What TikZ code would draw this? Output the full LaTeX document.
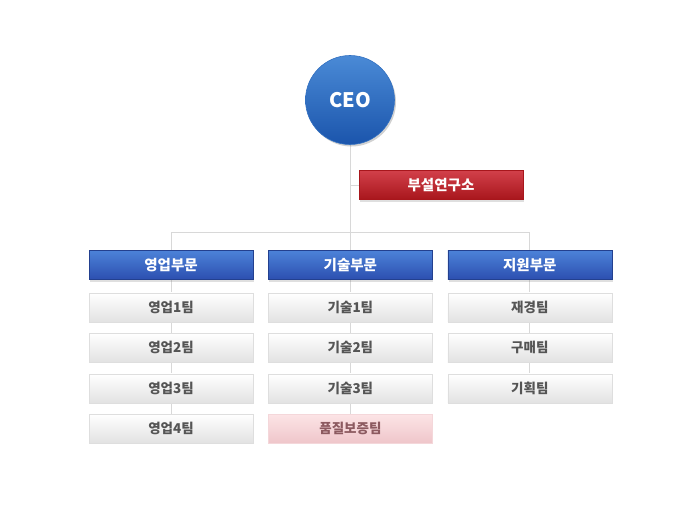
\documentclass[tikz,border=0pt]{standalone}
\usepackage{fontspec}
\setmainfont{Noto Sans CJK KR}
\usetikzlibrary{positioning,shadows,backgrounds}

\definecolor{ceotop}{HTML}{4A8AD6}
\definecolor{ceobot}{HTML}{1B55AC}
\definecolor{headtop}{HTML}{4C82D8}
\definecolor{headbot}{HTML}{2C4FB0}
\definecolor{headline}{HTML}{23408F}
\definecolor{labtop}{HTML}{D2404A}
\definecolor{labbot}{HTML}{A8161C}
\definecolor{teambot}{HTML}{E2E2E2}
\definecolor{teamline}{HTML}{DEDEDE}
\definecolor{teamtext}{HTML}{555555}
\definecolor{pinktop}{HTML}{FCE4E6}
\definecolor{pinkbot}{HTML}{EFC6CA}
\definecolor{pinktext}{HTML}{8C5A60}
\definecolor{wire}{HTML}{D8D8D8}

\begin{document}
\begin{tikzpicture}[x=1pt, y=-1pt, node distance=11pt,
    main/.style = {circle, minimum size=89pt, top color=ceotop, bottom color=ceobot, text=white,
      draw=ceotop!50!ceobot, line width=0.6pt, font=\bfseries\fontsize{20}{20}\selectfont},
    head/.style = {minimum width=164pt, minimum height=29pt, top color=headtop, bottom color=headbot,
      draw=headline, line width=0.4pt, text=white, font=\bfseries\fontsize{14.5}{15}\selectfont,
      drop shadow={shadow xshift=1pt, shadow yshift=-2pt, opacity=0.25}},
    lab/.style = {head, top color=labtop, bottom color=labbot, draw=labbot},
    team/.style = {minimum width=164pt, minimum height=29pt, top color=white, bottom color=teambot,
      draw=teamline, line width=0.4pt, text=teamtext, font=\bfseries\fontsize{13.5}{14}\selectfont,
      drop shadow={shadow xshift=0.5pt, shadow yshift=-1pt, opacity=0.12}},
    quality/.style = {team, top color=pinktop, bottom color=pinkbot, draw=pinkbot!70, text=pinktext},
    wire/.style = {draw=wire, line width=0.8pt}]
  \useasboundingbox (0,0) rectangle (684,508);

  \fill[black, opacity=0.18] (351.5,102) circle (44.5pt);
  \node[main] (ceo) at (350,100) {CEO};
  \node[lab] (lab) at (441,185) {부설연구소};
  \coordinate (bar) at (350,232);

  \node[head] (sales) at (171,265) {영업부문};
  \node[head, right=15pt of sales] (tech) {기술부문};
  \node[head, right=15pt of tech] (support) {지원부문};

  \node[team, below=13pt of sales] (sales1) {영업1팀};
  \node[team, below=of sales1] (sales2) {영업2팀};
  \node[team, below=of sales2] (sales3) {영업3팀};
  \node[team, below=of sales3] (sales4) {영업4팀};

  \node[team, below=13pt of tech] (tech1) {기술1팀};
  \node[team, below=of tech1] (tech2) {기술2팀};
  \node[team, below=of tech2] (tech3) {기술3팀};
  \node[quality, below=of tech3] (quality) {품질보증팀};

  \node[team, below=13pt of support] (support1) {재경팀};
  \node[team, below=of support1] (support2) {구매팀};
  \node[team, below=of support2] (support3) {기획팀};

  \begin{scope}[on background layer]
    \path[wire]
      (ceo.south) -- (bar)
      (ceo |- lab) -- (lab.west)
      (sales.north |- bar) -- (support.north |- bar)
      (sales.north |- bar) -- (sales.north)
      (tech.north |- bar) -- (tech.north)
      (support.north |- bar) -- (support.north)
      (sales.south) -- (sales4.north)
      (tech.south) -- (quality.north)
      (support.south) -- (support3.north);
  \end{scope}
\end{tikzpicture}
\end{document}
